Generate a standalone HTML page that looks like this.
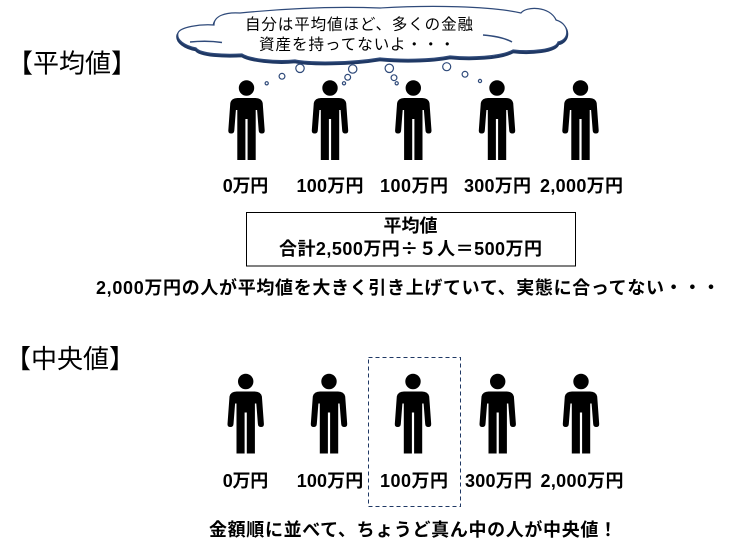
<!DOCTYPE html>
<html>
<head>
<meta charset="utf-8">
<style>
html,body{margin:0;padding:0;background:#fff;}
svg{display:block;}
text{font-family:"Liberation Sans","Noto Sans CJK JP",sans-serif;fill:#000;}
.b{font-weight:bold;font-size:18px;}
.cjk{font-family:"Noto Sans CJK JP",sans-serif;}
</style>
</head>
<body>
<svg width="754" height="558" viewBox="0 0 754 558" xmlns="http://www.w3.org/2000/svg">
<defs>
<g id="p">
<circle cx="0" cy="0" r="7.7" fill="#000"/>
<path d="M -9,10 L 9,10 Q 15,10 16.2,15 L 18.2,42.5 Q 18.3,45.5 15.3,45.5 Q 12.4,45.5 12.2,42.5 L 10.6,22 L 9.2,22 L 9.2,72 L 1.1,72 L 1.1,31 L -1.1,31 L -1.1,72 L -9.2,72 L -9.2,22 L -10.6,22 L -12.2,42.5 Q -12.4,45.5 -15.3,45.5 Q -18.3,45.5 -18.2,42.5 L -16.2,15 Q -15,10 -9,10 Z" fill="#000"/>
</g>
</defs>

<!-- headers -->
<text x="7" y="72.5" font-size="26" textLength="130" lengthAdjust="spacing">【平均値】</text>
<text x="5" y="368" font-size="26" textLength="130" lengthAdjust="spacing">【中央値】</text>

<!-- cloud -->
<g transform="translate(0,1.8)">
<path d="M 178,33 C 180,27 200,24 214,25 C 214,16 225,12 240,13 C 280,9 330,6 380,8 C 430,5 490,6 521,13 C 526,6 550,6 556,20 C 570,24 570,40 558,42 C 556,50 530,52 513,50 C 500,57 470,58 450,56 C 430,60 400,60 380,58 C 350,63 310,63 295,60 C 275,62 250,59 242,54 C 225,55 200,54 196,48 C 185,46 176,40 178,33 Z" fill="#fff" stroke="#1f3864" stroke-width="3"/>
</g>
<path d="M 178,33 C 180,27 200,24 214,25 C 214,16 225,12 240,13 C 280,9 330,6 380,8 C 430,5 490,6 521,13 C 526,6 550,6 556,20 C 570,24 570,40 558,42 C 556,50 530,52 513,50 C 500,57 470,58 450,56 C 430,60 400,60 380,58 C 350,63 310,63 295,60 C 275,62 250,59 242,54 C 225,55 200,54 196,48 C 185,46 176,40 178,33 Z" fill="#fff" stroke="#2f4a7a" stroke-width="1.2"/>
<path d="M190,42 C200,41 212,41 222,42.5" fill="none" stroke="#2f4a7a" stroke-width="1.5"/>
<path d="M483,35 C495,36 505,38 512,42" fill="none" stroke="#2f4a7a" stroke-width="1.5"/>

<text x="245" y="29.4" font-size="15.5" textLength="228" lengthAdjust="spacing">自分は平均値ほど、多くの金融</text>
<text x="259" y="49.4" font-size="15.5" textLength="196" lengthAdjust="spacing">資産を持ってないよ・・・</text>

<!-- bubbles -->
<g fill="#fff" stroke="#2f4a7a" stroke-width="1.2">
<circle cx="300" cy="68.3" r="4.2"/>
<circle cx="282" cy="76.3" r="2.9"/>
<circle cx="266.7" cy="83.3" r="1.6"/>
<circle cx="352.7" cy="69" r="4.2"/>
<circle cx="347.7" cy="77.3" r="2.9"/>
<circle cx="344" cy="83.3" r="1.6"/>
<circle cx="389.3" cy="68.3" r="4.2"/>
<circle cx="394" cy="77.7" r="2.9"/>
<circle cx="396.7" cy="83.3" r="1.6"/>
<circle cx="446.7" cy="66.7" r="4"/>
<circle cx="465" cy="74.3" r="2.9"/>
<circle cx="480" cy="81" r="1.6"/>
</g>

<!-- top figures -->
<use href="#p" x="246.5" y="88"/>
<use href="#p" x="330" y="88"/>
<use href="#p" x="413.3" y="88"/>
<use href="#p" x="497" y="88"/>
<use href="#p" x="580.5" y="88"/>

<!-- top labels -->
<text class="b" x="222.7" y="192" textLength="45.5" lengthAdjust="spacing">0万円</text>
<text class="b" x="296.5" y="192" textLength="67" lengthAdjust="spacing">100万円</text>
<text class="b" x="380" y="192" textLength="68" lengthAdjust="spacing">100万円</text>
<text class="b" x="464" y="192" textLength="67" lengthAdjust="spacing">300万円</text>
<text class="b" x="540" y="192" textLength="83" lengthAdjust="spacing">2,000万円</text>

<!-- formula box -->
<rect x="246.5" y="212.5" width="329" height="53.5" fill="none" stroke="#000" stroke-width="1"/>
<text class="b" x="410.5" y="232" text-anchor="middle">平均値</text>
<text class="b" x="279" y="255" textLength="263" lengthAdjust="spacing">合計2,500万円<tspan class="cjk">÷</tspan>５人＝500万円</text>

<text class="b" x="96" y="294" textLength="624" lengthAdjust="spacing">2,000万円の人が平均値を大きく引き上げていて、実態に合ってない・・・</text>

<!-- dashed highlight -->
<rect x="368.5" y="357.5" width="92" height="149" fill="none" stroke="#1f3864" stroke-width="1" stroke-dasharray="4,3"/>

<!-- bottom figures -->
<use href="#p" x="245.7" y="381.5"/>
<use href="#p" x="329" y="381.5"/>
<use href="#p" x="413" y="381.5"/>
<use href="#p" x="497.7" y="381.5"/>
<use href="#p" x="581" y="381.5"/>

<!-- bottom labels -->
<text class="b" x="222.7" y="487" textLength="45.5" lengthAdjust="spacing">0万円</text>
<text class="b" x="296.7" y="487" textLength="66.5" lengthAdjust="spacing">100万円</text>
<text class="b" x="380" y="487" textLength="68" lengthAdjust="spacing">100万円</text>
<text class="b" x="465" y="487" textLength="67" lengthAdjust="spacing">300万円</text>
<text class="b" x="540.5" y="487" textLength="83" lengthAdjust="spacing">2,000万円</text>

<text class="b" x="209" y="536" textLength="408" lengthAdjust="spacing">金額順に並べて、ちょうど真ん中の人が中央値！</text>
</svg>
</body>
</html>
